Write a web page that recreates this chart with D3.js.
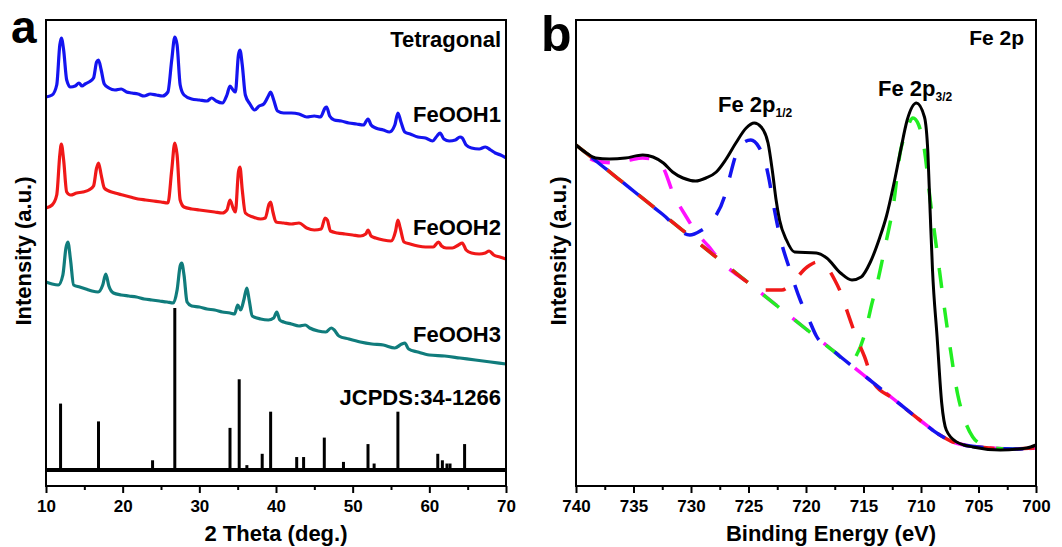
<!DOCTYPE html>
<html>
<head>
<meta charset="utf-8">
<script src="https://cdn.jsdelivr.net/npm/d3@7"></script>
<style>
body { margin: 0; background: #fff; }
text { font-family: "Liberation Sans", Arial, sans-serif; font-weight: bold; fill: #000; }
</style>
</head>
<body>
<svg id="chart" width="1062" height="547"></svg>
<script>
// ---- panel a : XRD patterns, [2theta, intensity a.u.] ----
var feooh1 = [[10.0,389],[10.8,391],[11.4,401],[11.8,441],[12.0,448],[12.3,436],[12.7,406],[13.2,399],[13.8,400],[14.3,403],
  [14.7,400],[15.1,402],[15.6,404],[16.2,408],[16.6,424],[16.85,426],[17.2,416],[17.6,402],[18.2,398],[19.0,396],[19.8,397],
  [20.5,394],[21.2,393],[22.0,392],[22.8,390],[23.6,392],[24.4,391],[25.2,390],[25.9,394],[26.4,426],[26.8,449],[27.1,441],
  [27.5,401],[28.0,391],[29.0,387],[30.0,386],[31.0,385],[31.6,388],[32.2,385],[33.0,383],[33.6,391],[34.0,400],[34.4,396],
  [34.7,394],[35.1,431],[35.3,436],[35.6,421],[36.0,391],[36.6,382],[37.2,376],[37.8,380],[38.4,382],[39.0,390],[39.3,394],
  [39.7,386],[40.2,375],[41.0,373],[42.0,373],[43.0,372],[44.0,369],[45.0,370],[45.8,369],[46.4,378],[46.6,379],[47.0,370],
  [47.6,366],[48.5,365],[49.5,363],[50.5,362],[51.4,361],[52.0,367],[52.4,361],[53.0,358],[54.0,356],[54.8,354],[55.5,361],
  [55.9,373],[56.3,364],[56.8,354],[57.5,352],[58.5,349],[59.5,348],[60.4,345],[61.0,350],[61.4,353],[61.9,347],[62.6,345],
  [63.4,346],[64.0,349],[64.3,348],[64.8,341],[65.5,338],[66.5,337],[67.3,339],[68.0,336],[68.6,333],[69.3,331],[70.0,328]];

var feooh2 = [[10.0,278],[10.8,281],[11.4,291],[11.8,331],[12.0,342],[12.3,326],[12.7,294],[13.2,291],[14.0,293],[14.8,294],
  [15.6,296],[16.2,300],[16.6,318],[16.85,323],[17.2,311],[17.6,298],[18.2,295],[19.0,293],[20.0,291],[21.0,289],[22.0,287],
  [23.0,286],[24.0,285],[25.0,284],[25.9,283],[26.4,316],[26.8,343],[27.1,331],[27.5,286],[28.0,279],[29.0,277],[30.0,276],
  [31.0,275],[32.0,274],[33.0,273],[33.6,276],[34.0,286],[34.4,278],[34.7,274],[35.1,314],[35.3,319],[35.6,296],[36.0,273],
  [37.0,269],[38.0,267],[38.6,268],[39.1,282],[39.3,284],[39.6,274],[40.0,264],[41.0,263],[42.0,262],[43.0,263],[44.0,258],
  [45.0,256],[45.9,257],[46.4,268],[46.7,266],[47.1,255],[48.0,253],[49.0,252],[50.0,251],[51.0,250],[51.7,252],[52.0,256],
  [52.4,250],[53.0,248],[54.0,246],[55.0,245],[55.6,255],[55.9,266],[56.2,258],[56.7,244],[57.5,242],[58.5,240],[59.5,239],
  [60.5,239],[61.2,244],[61.6,240],[62.2,238],[63.0,238],[63.8,241],[64.3,243],[64.8,236],[65.5,233],[66.5,232],[67.3,233],
  [67.8,235],[68.4,231],[69.2,229],[70.0,227]];

var feooh3 = [[10.0,204],[10.8,202],[11.6,201],[12.2,211],[12.6,238],[12.85,244],[13.2,226],[13.6,201],[14.4,199],[15.2,197],
  [16.0,195],[16.8,194],[17.4,201],[17.8,212],[18.2,200],[18.8,193],[19.8,191],[20.8,190],[21.8,189],[22.8,187],[23.8,186],
  [24.8,185],[25.8,184],[26.6,183],[27.1,196],[27.5,220],[27.7,223],[28.0,211],[28.4,184],[29.0,180],[30.0,179],[31.0,177],
  [32.0,176],[33.0,174],[34.0,173],[34.6,172],[35.0,181],[35.4,176],[35.8,186],[36.2,198],[36.5,186],[36.9,170],[38.0,167],
  [39.0,166],[39.7,168],[40.1,174],[40.5,166],[41.0,164],[42.0,162],[43.0,160],[43.8,161],[44.4,158],[45.5,155],[46.5,154],
  [47.2,158],[47.6,156],[48.2,150],[49.5,147],[51.0,144],[52.5,142],[54.0,141],[55.5,138],[56.4,142],[56.8,143],[57.3,137],
  [58.5,134],[60.0,131],[62.0,130],[64.0,128],[66.0,126],[68.0,124],[70.0,122]];

// JCPDS 34-1266 reference lines: position and relative intensity (%)
var jcpdsPos = [11.9, 16.85, 23.9, 26.8, 34.0, 35.2, 36.2, 38.2, 39.3, 42.7, 43.6, 46.3, 48.8, 52.0, 52.8, 55.9, 61.1, 61.7, 62.3, 62.7, 64.6];
var jcpdsInt = [41, 30, 6, 100, 26, 56, 3, 10, 36, 8, 8, 20, 5, 16, 4, 36, 10, 6, 4, 4, 16];

var thetaMajor = [10, 20, 30, 40, 50, 60, 70];
var thetaMinor = [15, 25, 35, 45, 55, 65];

// ---- panel b : Fe 2p XPS, [binding energy eV, intensity a.u.] ----
var envelope = [[740,341],[739.1,333],[738.3,328],[737.1,327],[735.7,328],[734.2,331],[733.3,329],[732.4,323],[731.6,314],
  [730.7,308],[729.6,305],[728.7,308],[727.8,314],[727.0,326],[726.1,343],[725.2,358],[724.5,363],[723.9,359],[723.3,343],
  [722.9,313],[722.6,286],[722.3,266],[721.7,246],[721.0,234],[719.1,233],[718.2,228],[717.0,213],[716.0,206],[715.2,209],
  [714.4,224],[713.6,248],[713.0,270],[712.4,300],[711.8,334],[711.2,366],[710.4,383],[709.7,369],[709.4,333],[709.2,273],
  [709.0,216],[708.6,149],[708.2,83],[707.8,56],[706.9,44],[705.5,39],[703.1,36],[700.8,38],[700.0,41]];

// linear background under the fit
var background = [[740,341],[737.5,318],[735,295],[732.5,272],[730,249],[727.5,226],[725,203],[722.5,180],[720,157],
  [717.5,134],[715,111],[712.5,88],[710,65],[708.5,52],[707.2,44],[705.0,39],[702.0,37],[700.0,38]];

// fitted peaks (above the background)
var satellite = [[738.3,325],[736.5,323],[735.3,326],[734.2,328],[733.3,327],[732.4,318],[731.6,294],[730.4,269],
  [729.5,253],[728.5,240]];
var p12 = [[730.1,251],[729.2,255],[728.1,266],[727.1,289],[726.7,306],[726.1,331],[725.5,343],[724.8,346],
  [724.1,339],[723.6,326],[723.2,306],[722.9,286],[722.3,251],[721.4,216],[720.5,186],[719.8,168],[719.1,150]];
var sat12 = [[724.4,198],[723.6,196],[722.1,196],[721.0,206],[719.9,219],[719.0,224],[718.2,219],[717.5,206],
  [717.0,194],[716.4,174],[715.6,148],[714.9,129],[714.1,103]];
var p32 = [[716.2,123],[715.6,131],[715.0,148],[714.6,166],[714.3,181],[713.8,203],[713.4,224],[713.0,246],
  [712.4,281],[711.8,334],[711.3,354],[710.7,368],[710.2,361],[709.7,336],[709.2,286],[708.8,251],[708.4,216],[708.0,181],
  [707.5,141],[706.8,91],[706.2,66],[705.5,49],[704.6,41],[703.6,38]];

var beMajor = [740, 735, 730, 725, 720, 715, 710, 705, 700];
var beMinor = [737.5, 732.5, 727.5, 722.5, 717.5, 712.5, 707.5, 702.5];

var svg = d3.select("#chart");
var plotTop = 20, plotBottom = 486;

function drawFrame(x0, x1, x, majors, minors) {
  svg.append("g")
    .attr("transform", "translate(0," + plotBottom + ")")
    .call(d3.axisBottom(x).tickValues(minors).tickSize(4).tickFormat(""))
    .call(function(g) { g.select(".domain").remove(); g.selectAll("line").attr("stroke-width", 2); });
  var ax = svg.append("g")
    .attr("transform", "translate(0," + plotBottom + ")")
    .call(d3.axisBottom(x).tickValues(majors).tickSize(7).tickSizeOuter(0).tickPadding(7).tickFormat(d3.format("d")));
  ax.select(".domain").remove();
  ax.selectAll("line").attr("stroke-width", 2);
  ax.selectAll("text").style("font-size", "17px").style("font-family", "'Liberation Sans', Arial, sans-serif")
    .style("font-weight", "bold").attr("fill", "#000");
  svg.append("rect")
    .attr("x", x0).attr("y", plotTop).attr("width", x1 - x0).attr("height", plotBottom - plotTop)
    .attr("fill", "none").attr("stroke", "#000").attr("stroke-width", 2);
}

// ================= panel a =================
var xA = d3.scaleLinear().domain([10, 70]).range([46, 506]);
var yA = d3.scaleLinear().domain([0, 466]).range([plotBottom, plotTop]);
var yS = d3.scaleLinear().domain([0, 100]).range([470, 308]);

var lineA = d3.line()
  .curve(d3.curveMonotoneX)
  .x(function(d) { return xA(d[0]); })
  .y(function(d) { return yA(d[1]); });

[[feooh1, "#1414f0"], [feooh2, "#f01818"], [feooh3, "#107c7c"]].forEach(function(s) {
  svg.append("path")
    .datum(s[0])
    .attr("fill", "none")
    .attr("stroke", s[1])
    .attr("stroke-width", 3.2)
    .attr("stroke-linejoin", "round")
    .attr("d", lineA);
});

// reference sticks
svg.append("g").selectAll("line")
  .data(jcpdsPos)
  .enter().append("line")
  .attr("x1", function(d) { return xA(d); })
  .attr("x2", function(d) { return xA(d); })
  .attr("y1", yS(0))
  .attr("y2", function(d, i) { return yS(jcpdsInt[i]); })
  .attr("stroke", "#000")
  .attr("stroke-width", 3);
svg.append("line")
  .attr("x1", xA(10)).attr("x2", xA(70))
  .attr("y1", yS(0)).attr("y2", yS(0))
  .attr("stroke", "#000").attr("stroke-width", 4);

drawFrame(46, 506, xA, thetaMajor, thetaMinor);

var labelsA = [["Tetragonal", 47], ["FeOOH1", 122], ["FeOOH2", 235], ["FeOOH3", 342], ["JCPDS:34-1266", 405]];
labelsA.forEach(function(l) {
  svg.append("text").attr("x", 501).attr("y", l[1]).attr("text-anchor", "end")
    .style("font-size", "22px").text(l[0]);
});

svg.append("text").attr("x", 276).attr("y", 541).attr("text-anchor", "middle")
  .style("font-size", "22px").text("2 Theta (deg.)");
svg.append("text").attr("transform", "translate(31,251) rotate(-90)").attr("text-anchor", "middle")
  .style("font-size", "22px").text("Intensity (a.u.)");
svg.append("text").attr("x", 11).attr("y", 43).style("font-size", "46px").text("a");

// ================= panel b =================
var xB = d3.scaleLinear().domain([740, 700]).range([576, 1036]);
var yB = d3.scaleLinear().domain([0, 466]).range([plotBottom, plotTop]);

var lineB = d3.line()
  .curve(d3.curveMonotoneX)
  .x(function(d) { return xB(d[0]); })
  .y(function(d) { return yB(d[1]); });

// each component = background + its peak
function withBackground(peak) {
  var hi = peak[0][0], lo = peak[peak.length - 1][0];
  return background.filter(function(d) { return d[0] > hi + 0.4; })
    .concat(peak, background.filter(function(d) { return d[0] < lo - 0.4; }));
}

[[satellite, "#ff10ff", 20], [p32, "#22ee22", 0], [sat12, "#f01818", 0], [p12, "#1414f0", 20]].forEach(function(s) {
  svg.append("path")
    .datum(withBackground(s[0]))
    .attr("fill", "none")
    .attr("stroke", s[1])
    .attr("stroke-width", 3.5)
    .attr("stroke-dasharray", "20,20")
    .attr("stroke-dashoffset", s[2])
    .attr("d", lineB);
});

svg.append("path")
  .datum(envelope)
  .attr("fill", "none")
  .attr("stroke", "#000")
  .attr("stroke-width", 3)
  .attr("stroke-linejoin", "round")
  .attr("d", lineB);

drawFrame(576, 1036, xB, beMajor, beMinor);

svg.append("text").attr("x", 1024).attr("y", 45).attr("text-anchor", "end")
  .style("font-size", "21px").text("Fe 2p");

var t1 = svg.append("text").attr("x", 718).attr("y", 112).style("font-size", "22px");
t1.append("tspan").text("Fe 2p");
t1.append("tspan").attr("dy", 5).style("font-size", "12px").text("1/2");
var t2 = svg.append("text").attr("x", 878).attr("y", 96).style("font-size", "22px");
t2.append("tspan").text("Fe 2p");
t2.append("tspan").attr("dy", 5).style("font-size", "12px").text("3/2");

svg.append("text").attr("x", 831).attr("y", 541).attr("text-anchor", "middle")
  .style("font-size", "22px").text("Binding Energy (eV)");
svg.append("text").attr("transform", "translate(566,251) rotate(-90)").attr("text-anchor", "middle")
  .style("font-size", "22px").text("Intensity (a.u.)");
svg.append("text").attr("x", 541).attr("y", 51).style("font-size", "50px").text("b");
</script>
</body>
</html>
